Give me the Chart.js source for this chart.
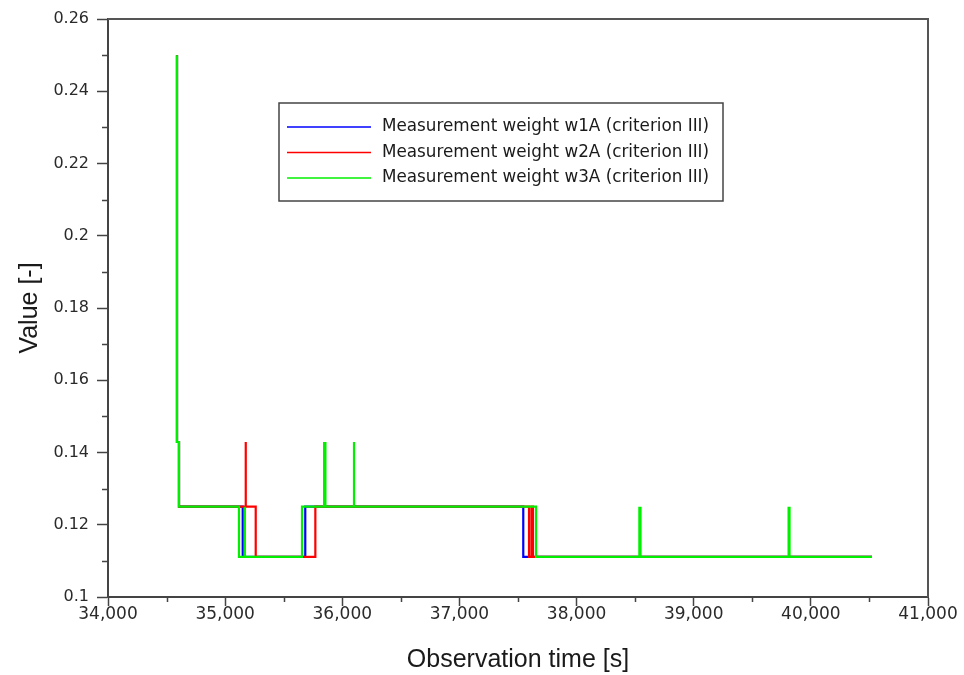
<!DOCTYPE html>
<html>
<head>
<meta charset="utf-8">
<title>Measurement weights (criterion III)</title>
<script src="https://cdn.jsdelivr.net/npm/chart.js@4.4.1/dist/chart.umd.min.js"></script>
<style>
  html, body { margin: 0; padding: 0; background: #fff; }
  #wrap { position: relative; width: 964px; height: 675px; }
</style>
</head>
<body>
<div id="wrap"><canvas id="weightChart"></canvas></div>
<script>
// --- data: change points (time [s], new value) ---
const w1aTime  = [34589, 34589, 34606, 35150, 35684, 37545, 40522];
const w1aValue = [0.25, 0.1429, 0.125, 0.1111, 0.125, 0.1111, 0.1111];

const w2aTime  = [34589, 34589, 34606, 35176, 35176, 35261, 35770, 37594, 37615, 37628, 40522];
const w2aValue = [0.25, 0.1429, 0.125, 0.1429, 0.125, 0.1111, 0.125, 0.1111, 0.125, 0.1111, 0.1111];

const w3aTime  = [34589, 34589, 34606, 35118, 35168, 35168, 35656, 35845, 35845, 35856, 35856,
                  36100, 36100, 37654, 38536, 38536, 38546, 38546, 39810, 39810, 39818, 39818, 40522];
const w3aValue = [0.25, 0.1429, 0.125, 0.1111, 0.125, 0.1111, 0.125, 0.1429, 0.125, 0.1429, 0.125,
                  0.1429, 0.125, 0.1111, 0.125, 0.1111, 0.125, 0.1111, 0.125, 0.1111, 0.125, 0.1111, 0.1111];

const seriesLabels = [
    'Measurement weight w1A (criterion III)',
    'Measurement weight w2A (criterion III)',
    'Measurement weight w3A (criterion III)'
];
const seriesColors = ['#0000ff', '#ff0000', '#00f000'];

const xTicks = [34000, 35000, 36000, 37000, 38000, 39000, 40000, 41000];
const xMinor = [34500, 35500, 36500, 37500, 38500, 39500, 40500];
const yTicks = [0.1, 0.12, 0.14, 0.16, 0.18, 0.2, 0.22, 0.24, 0.26];
const yMinor = [0.11, 0.13, 0.15, 0.17, 0.19, 0.21, 0.23, 0.25];

const toPoints = (ts, vs) => ts.map((t, i) => ({ x: t, y: vs[i] }));

const axisColor = '#444';
const tickFont = { family: 'DejaVu Sans', size: 16 };

// minor ticks, frame and the boxed legend
const extrasPlugin = {
    id: 'extras',
    afterDraw(chart) {
        const { ctx, chartArea: a, scales: { x, y } } = chart;
        ctx.save();
        ctx.strokeStyle = axisColor;
        ctx.lineWidth = 1.5;
        ctx.beginPath();
        xMinor.forEach(v => {
            const px = Math.round(x.getPixelForValue(v)) + 0.5;
            ctx.moveTo(px, a.bottom);
            ctx.lineTo(px, a.bottom + 5);
        });
        yMinor.forEach(v => {
            const py = Math.round(y.getPixelForValue(v)) + 0.5;
            ctx.moveTo(a.left, py);
            ctx.lineTo(a.left - 6, py);
        });
        ctx.stroke();

        // top and right frame
        ctx.lineWidth = 2;
        ctx.strokeStyle = '#555';
        ctx.beginPath();
        ctx.moveTo(a.left, a.top);
        ctx.lineTo(a.right, a.top);
        ctx.lineTo(a.right, a.bottom);
        ctx.stroke();

        // legend box
        const bx = 279, by = 103, bw = 444, bh = 98;
        ctx.fillStyle = '#fff';
        ctx.fillRect(bx, by, bw, bh);
        ctx.strokeStyle = '#444';
        ctx.lineWidth = 1.5;
        ctx.strokeRect(bx, by, bw, bh);
        ctx.font = '16.8px "DejaVu Sans"';
        ctx.textBaseline = 'middle';
        ctx.textAlign = 'left';
        seriesLabels.forEach((lab, i) => {
            const ly = by + 24 + i * 25.5;
            ctx.strokeStyle = seriesColors[i];
            ctx.lineWidth = 1.5;
            ctx.beginPath();
            ctx.moveTo(bx + 8, ly);
            ctx.lineTo(bx + 92, ly);
            ctx.stroke();
            ctx.fillStyle = '#1a1a1a';
            ctx.fillText(lab, bx + 103, ly);
        });
        ctx.restore();
    }
};

const makeSet = (i, ts, vs, order) => ({
    label: seriesLabels[i],
    data: toPoints(ts, vs),
    borderColor: seriesColors[i],
    backgroundColor: seriesColors[i],
    borderWidth: 2.2,
    pointRadius: 0,
    stepped: 'before',
    fill: false,
    order: order
});

new Chart(document.getElementById('weightChart'), {
    type: 'line',
    data: {
        datasets: [
            makeSet(0, w1aTime, w1aValue, 2),
            makeSet(1, w2aTime, w2aValue, 1),
            makeSet(2, w3aTime, w3aValue, 0)
        ]
    },
    options: {
        responsive: true,
        maintainAspectRatio: false,
        animation: false,
        layout: { padding: { top: 19, right: 36, left: 0, bottom: 0 } },
        plugins: {
            legend: { display: false },
            tooltip: { enabled: false }
        },
        scales: {
            x: {
                type: 'linear',
                min: 34000,
                max: 41000,
                afterBuildTicks: s => { s.ticks = xTicks.map(v => ({ value: v })); },
                afterFit: s => { s.height = 78; },
                border: { color: axisColor, width: 2 },
                grid: { drawOnChartArea: false, drawTicks: true, tickLength: 9, tickColor: axisColor, tickWidth: 1.5 },
                ticks: {
                    color: '#2a2a2a',
                    font: { family: 'DejaVu Sans', size: 17 },
                    padding: -2,
                    maxRotation: 0,
                    callback: v => v.toLocaleString('en-US')
                },
                title: {
                    display: true,
                    text: 'Observation time [s]',
                    color: '#1a1a1a',
                    font: { family: 'Liberation Sans', size: 25 },
                    padding: { top: 0, bottom: 0 }
                }
            },
            y: {
                min: 0.1,
                max: 0.26,
                afterBuildTicks: s => { s.ticks = yTicks.map(v => ({ value: v })); },
                afterFit: s => { s.width = 108; },
                border: { color: axisColor, width: 2 },
                grid: { drawOnChartArea: false, drawTicks: true, tickLength: 11, tickColor: axisColor, tickWidth: 1.5 },
                ticks: {
                    color: '#2a2a2a',
                    font: tickFont,
                    padding: 8,
                    callback: v => String(+v.toFixed(2))
                },
                title: {
                    display: true,
                    text: 'Value [-]',
                    color: '#1a1a1a',
                    font: { family: 'Liberation Sans', size: 25 },
                    padding: { top: 15, bottom: 0 }
                }
            }
        }
    },
    plugins: [extrasPlugin]
});
</script>
</body>
</html>
